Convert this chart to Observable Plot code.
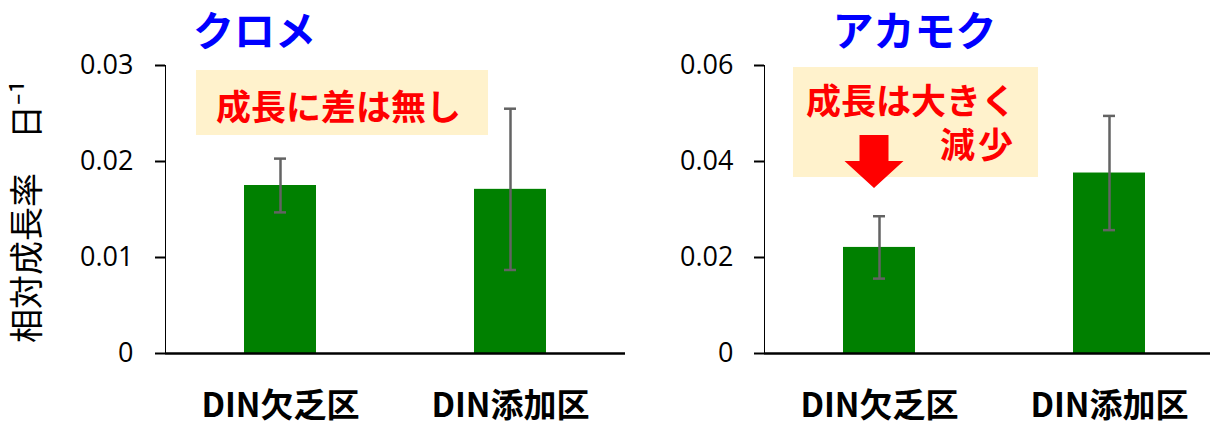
<!DOCTYPE html>
<html><head><meta charset="utf-8">
<script src="https://cdn.jsdelivr.net/npm/d3@7"></script>
<script src="https://cdn.jsdelivr.net/npm/@observablehq/plot@0.6"></script>
<style>
body{margin:0;background:#fff;}
#wrap{position:relative;width:1210px;height:425px;overflow:hidden;background:#fff;font-family:"Noto Sans CJK JP",sans-serif;}
.panel{position:absolute;top:0;z-index:1;}
.box{position:absolute;background:#FFF2CC;z-index:0;}
.note{position:absolute;color:#FF0000;font-weight:bold;font-size:35px;line-height:1;white-space:nowrap;font-family:"Noto Sans CJK JP",sans-serif;}
svg g[aria-label^="y-axis"] text{font-family:"Open Sans",sans-serif;font-size:27px;fill:#000;}
svg g[aria-label^="x-axis"] text{font-family:"Noto Sans CJK JP",sans-serif;font-weight:bold;font-size:33px;fill:#000;}
svg g[aria-label^="y-axis"] path, svg g[aria-label^="y-axis"] line{stroke:#000;stroke-width:2;stroke-opacity:1;}
</style></head>
<body>
<div id="wrap">
  <div class="box" style="left:196px;top:70px;width:292px;height:65px;">
    <div class="note" style="left:20px;top:17px;" id="noteL"></div>
  </div>
  <div class="box" style="left:793px;top:67px;width:245px;height:110px;">
    <div class="note" style="right:22px;top:10px;text-align:right;white-space:pre;line-height:44px;" id="noteR"></div>
  </div>
</div>
<script>
// ---- data ----
const categories = ["DIN欠乏区", "DIN添加区"];
const kuromeMean = [0.0175, 0.0171];
const kuromeErr = [0.0028, 0.0084];
const akamokuMean = [0.0221, 0.0376];
const akamokuErr = [0.0065, 0.0119];
const kuromeTicks = [0, 0.01, 0.02, 0.03];
const akamokuTicks = [0, 0.02, 0.04, 0.06];
const titles = ["クロメ", "アカモク"];
const yLabel = "相対成長率　日⁻¹";
const noteLeft = "成長に差は無し";
const noteRight = ["成長は大きく", "減少"];

document.getElementById("noteL").textContent = noteLeft;
document.getElementById("noteR").innerHTML = noteRight[0] + "<br><span style=\"letter-spacing:3px\">" + noteRight[1] + "</span>";

const fmt = d => d === 0 ? "0" : d3.format(".2f")(d);

const arrowSymbol = {
  draw(ctx, size) {
    const s = Math.sqrt(size / Math.PI);
    ctx.moveTo(-1.45 * s, -2.65 * s);
    ctx.lineTo(1.45 * s, -2.65 * s);
    ctx.lineTo(1.45 * s, -0.05 * s);
    ctx.lineTo(2.95 * s, -0.05 * s);
    ctx.lineTo(0, 2.65 * s);
    ctx.lineTo(-2.95 * s, -0.05 * s);
    ctx.lineTo(-1.45 * s, -0.05 * s);
    ctx.closePath();
  }
};

function panel({means, errs, yDomain, yTicks, title, titleDx, width, marginLeft, xRange, withYLabel, withArrow, tickPadding}) {
  const rows = categories.map((c, i) => ({cat: c, v: means[i], lo: means[i] - errs[i], hi: means[i] + errs[i]}));
  const errColor = "#636363";
  const marks = [
    Plot.barY(rows, {x: "cat", y: "v", fill: "#008000", insetLeft: 79, insetRight: 79}),
    Plot.ruleX(rows, {x: "cat", y1: "lo", y2: "hi", stroke: errColor, strokeWidth: 2.5}),
    Plot.tickY(rows, {x: "cat", y: "lo", stroke: errColor, strokeWidth: 2.5, insetLeft: 109, insetRight: 109}),
    Plot.tickY(rows, {x: "cat", y: "hi", stroke: errColor, strokeWidth: 2.5, insetLeft: 109, insetRight: 109}),
    Plot.ruleY([0], {stroke: "#000", strokeWidth: 2.5}),
    Plot.text([title], {frameAnchor: "top-left", text: d => d, dx: titleDx, dy: -33, textAnchor: "middle", lineAnchor: "middle",
      fill: "#0000FF", fontSize: 41, fontWeight: "bold", fontFamily: "Noto Sans CJK JP"})
  ];
  if (withYLabel) marks.push(Plot.text([yLabel], {frameAnchor: "left", text: d => d, rotate: -90, dx: -137, dy: 2,
      textAnchor: "middle", lineAnchor: "middle",
      fontSize: 34, fontFamily: "Noto Sans CJK JP", fill: "#000"}));
  if (withArrow) marks.push(Plot.dot([{cat: categories[0], v: 0.04}], {x: "cat", y: "v", symbol: arrowSymbol, r: 10,
      fill: "#FF0000", stroke: "none", dx: -5.5}));
  const xOpts = {domain: categories, padding: 0, tickSize: 0, tickPadding: 40, label: null};
  if (xRange) xOpts.range = xRange;
  return Plot.plot({
    width, height: 425, marginTop: 65, marginBottom: 72, marginLeft, marginRight: 0,
    style: {background: "transparent", overflow: "visible", color: "#000"},
    x: xOpts,
    y: {domain: yDomain, ticks: yTicks, tickFormat: fmt, tickSize: 10, tickPadding, line: true, label: null},
    marks
  });
}

const wrap = document.getElementById("wrap");
const left = panel({means: kuromeMean, errs: kuromeErr, yDomain: [0, 0.03], yTicks: kuromeTicks, title: titles[0],
  titleDx: 89, width: 625, marginLeft: 165, withYLabel: true, tickPadding: 22});
left.classList.add("panel"); left.style.left = "0px";
wrap.appendChild(left);
const right = panel({means: akamokuMean, errs: akamokuErr, yDomain: [0, 0.06], yTicks: akamokuTicks, title: titles[1],
  titleDx: 150, width: 585, marginLeft: 139, xRange: [139, 599], withArrow: true, tickPadding: 21});
right.classList.add("panel"); right.style.left = "625px";
wrap.appendChild(right);
</script>
</body></html>
